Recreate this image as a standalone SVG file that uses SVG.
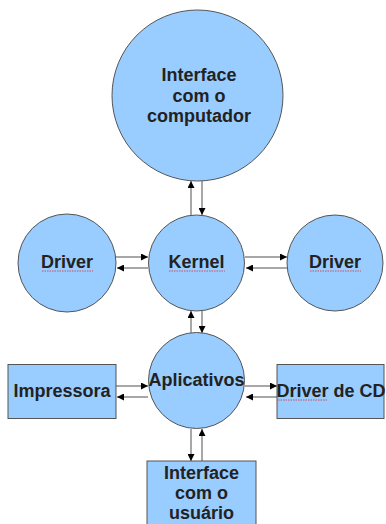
<svg xmlns="http://www.w3.org/2000/svg" width="386" height="524" viewBox="0 0 386 524">
<style>
.n{fill:#99ccff;stroke:#555555;stroke-width:1}
.t{font-family:"Liberation Sans",Arial,sans-serif;font-weight:bold;font-size:18px;fill:#222222;text-anchor:middle}
.c{stroke:#8a8a8a;stroke-width:1.5;fill:none;marker-end:url(#ah)}
.sq{stroke:#e03030;stroke-width:0.8;fill:none;stroke-dasharray:1.5 1}
</style>
<defs>
<marker id="ah" viewBox="0 0 10 10" refX="10" refY="5" markerWidth="7" markerHeight="7" markerUnits="userSpaceOnUse" orient="auto">
<path d="M0,0 L10,5 L0,10 z" fill="#000"/>
</marker>
</defs>
<g id="connectors">
<line class="c" x1="191" y1="215" x2="191" y2="181"/>
<line class="c" x1="202" y1="181" x2="202" y2="215"/>
<line class="c" x1="116" y1="257" x2="148" y2="257"/>
<line class="c" x1="148" y1="268" x2="117" y2="268"/>
<line class="c" x1="245" y1="257" x2="287" y2="257"/>
<line class="c" x1="287" y1="268" x2="246" y2="268"/>
<line class="c" x1="191" y1="333" x2="191" y2="311"/>
<line class="c" x1="202" y1="311" x2="202" y2="333"/>
<line class="c" x1="116" y1="386" x2="148" y2="386"/>
<line class="c" x1="148" y1="397" x2="117" y2="397"/>
<line class="c" x1="245" y1="386" x2="277" y2="386"/>
<line class="c" x1="277" y1="397" x2="246" y2="397"/>
<line class="c" x1="191" y1="429" x2="191" y2="461"/>
<line class="c" x1="202" y1="461" x2="202" y2="429"/>
</g>
<g id="interface-computador">
<circle class="n" cx="197.5" cy="95.5" r="85.5"/>
<text class="t" x="199" y="81">Interface</text>
<text class="t" x="199" y="102">com o</text>
<text class="t" x="199" y="122">computador</text>
</g>
<g id="kernel">
<circle class="n" cx="196.5" cy="263" r="48"/>
<text class="t" x="196.5" y="268">Kernel</text>
<path class="sq" d="M169,271 L225,271"/>
</g>
<g id="driver-left">
<circle class="n" cx="67" cy="263" r="49"/>
<text class="t" x="67" y="268">Driver</text>
<path class="sq" d="M42,271 L93,271"/>
</g>
<g id="driver-right">
<circle class="n" cx="335" cy="263" r="48"/>
<text class="t" x="335" y="268">Driver</text>
<path class="sq" d="M310,271 L361,271"/>
</g>
<g id="aplicativos">
<circle class="n" cx="196.5" cy="380.5" r="48"/>
<text class="t" x="196.5" y="386">Aplicativos</text>
</g>
<g id="impressora">
<rect class="n" x="8" y="364.5" width="108" height="54"/>
<text class="t" x="62" y="397">Impressora</text>
</g>
<g id="driver-cd">
<rect class="n" x="277" y="364.5" width="107" height="54"/>
<text class="t" x="331" y="397">Driver de CD</text>
<path class="sq" d="M278,400 L328,400"/>
</g>
<g id="interface-usuario">
<rect class="n" x="147" y="461" width="109" height="70"/>
<text class="t" x="201.5" y="479">Interface</text>
<text class="t" x="201.5" y="499">com o</text>
<text class="t" x="201.5" y="519">usuário</text>
</g>
</svg>
